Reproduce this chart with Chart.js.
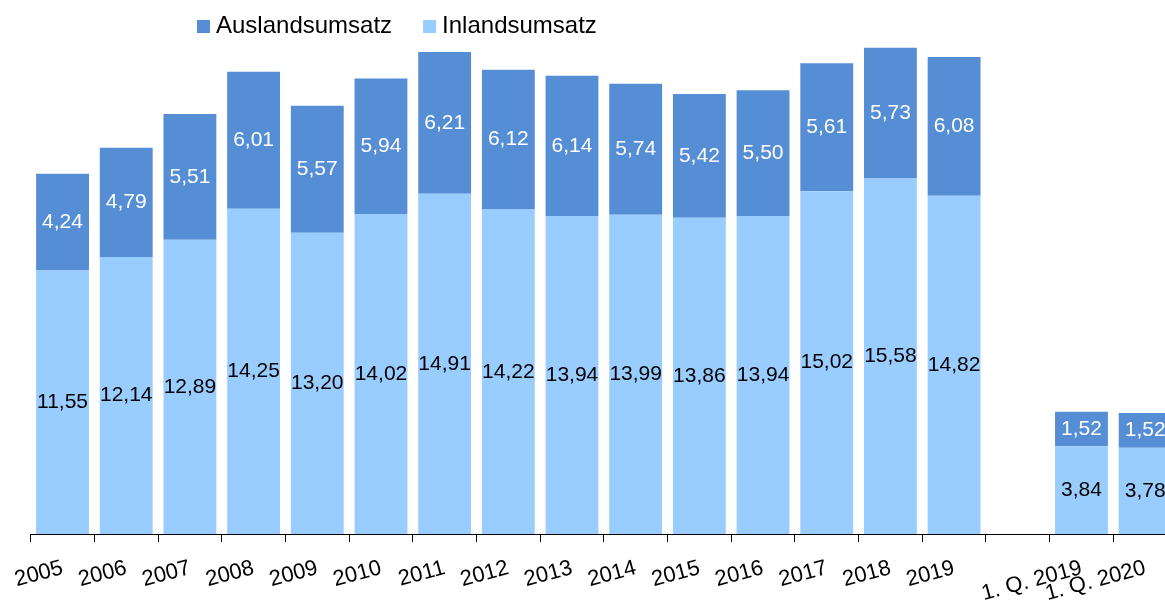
<!DOCTYPE html>
<html lang="de">
  <head>
    <meta charset="UTF-8" />
    <title>Umsatz</title>
    <script src="https://cdn.jsdelivr.net/npm/chart.js"></script>
    <style>
      body {
        margin: 0;
        overflow: hidden;
        background: #fff;
      }
    </style>
  </head>
  <body>
    <canvas id="chart" width="1177" height="601"></canvas>

    <script>
      const categories = [
        "2005", "2006", "2007", "2008", "2009", "2010", "2011", "2012",
        "2013", "2014", "2015", "2016", "2017", "2018", "2019", "",
        "1. Q. 2019", "1. Q. 2020",
      ];
      const inland = [
        11.55, 12.14, 12.89, 14.25, 13.2, 14.02, 14.91, 14.22, 13.94, 13.99,
        13.86, 13.94, 15.02, 15.58, 14.82, null, 3.84, 3.78,
      ];
      const ausland = [
        4.24, 4.79, 5.51, 6.01, 5.57, 5.94, 6.21, 6.12, 6.14, 5.74, 5.42, 5.5,
        5.61, 5.73, 6.08, null, 1.52, 1.52,
      ];

      const FONT = "Arial, 'Liberation Sans', sans-serif";

      // values in the middle of each segment, german decimal comma
      const valueLabels = {
        id: "valueLabels",
        afterDatasetsDraw(chart) {
          const { ctx } = chart;
          ctx.save();
          ctx.font = "21px " + FONT;
          ctx.textAlign = "center";
          ctx.textBaseline = "middle";
          chart.data.datasets.forEach((ds, i) => {
            chart.getDatasetMeta(i).data.forEach((bar, j) => {
              const v = ds.data[j];
              if (v == null) return;
              ctx.fillStyle = ds.labelColor;
              ctx.fillText(v.toFixed(2).replace(".", ","), bar.x, (bar.y + bar.base) / 2);
            });
          });
          ctx.restore();
        },
      };

      // legend like the original: small squares, tight gap, top left
      const topLegend = {
        id: "topLegend",
        afterDraw(chart) {
          const { ctx } = chart;
          const items = [1, 0];
          let x = 197;
          ctx.save();
          ctx.font = "24px " + FONT;
          ctx.textBaseline = "alphabetic";
          items.forEach((i) => {
            const ds = chart.data.datasets[i];
            ctx.fillStyle = ds.backgroundColor;
            ctx.fillRect(x, 20, 13, 13);
            ctx.fillStyle = "#000";
            ctx.fillText(ds.label, x + 19, 33);
            x += 19 + ctx.measureText(ds.label).width + 31;
          });
          ctx.restore();
        },
      };

      new Chart(document.getElementById("chart"), {
        type: "bar",
        data: {
          labels: categories,
          datasets: [
            {
              label: "Inlandsumsatz",
              data: inland,
              backgroundColor: "#99CCFF",
              labelColor: "#000",
            },
            {
              label: "Auslandsumsatz",
              data: ausland,
              backgroundColor: "#558ED5",
              labelColor: "#fff",
            },
          ],
        },
        options: {
          responsive: false,
          animation: false,
          layout: { padding: { left: 30.7, right: 0, top: 0, bottom: 0 } },
          datasets: {
            bar: { categoryPercentage: 1, barPercentage: 0.83 },
          },
          plugins: {
            legend: { display: false },
            tooltip: { enabled: false },
          },
          scales: {
            x: {
              stacked: true,
              afterFit: (scale) => {
                scale.height = 67;
              },
              grid: {
                offset: true,
                drawOnChartArea: false,
                drawTicks: true,
                tickLength: 8,
                color: "#000",
              },
              border: { color: "#000", width: 1 },
              ticks: {
                color: "#000",
                font: { family: FONT, size: 22 },
                minRotation: 15,
                maxRotation: 15,
                autoSkip: false,
                padding: 13,
              },
            },
            y: {
              stacked: true,
              display: false,
              min: 0,
              max: 23.4,
            },
          },
        },
        plugins: [valueLabels, topLegend],
      });
    </script>
  </body>
</html>
